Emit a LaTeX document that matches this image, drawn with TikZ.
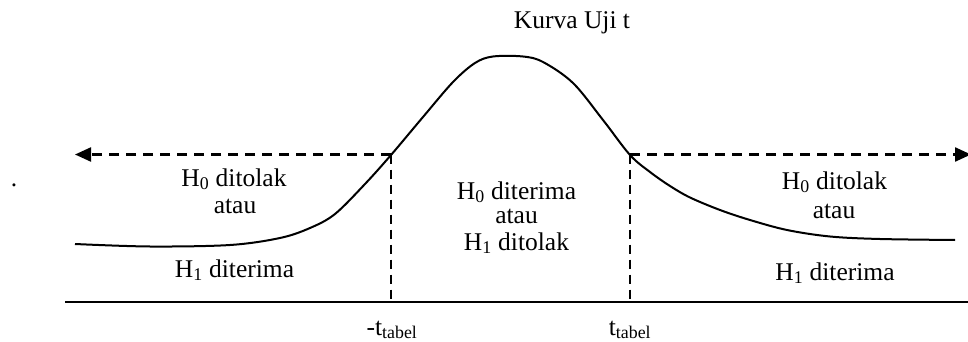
\documentclass[tikz,border=0pt]{standalone}
\usepackage{fontspec}
\setmainfont{Liberation Serif}
\usetikzlibrary{arrows.meta}
\begin{document}
\begin{tikzpicture}[x=1pt,y=-1pt,
  txt/.style={font=\fontsize{25.5}{29}\selectfont, anchor=base, inner sep=0pt},
  ln/.style={line width=2pt},
  dsh/.style={line width=2.3pt, dash pattern=on 10pt off 7pt},
  vdsh/.style={line width=2pt, dash pattern=on 9pt off 6pt}]
\useasboundingbox (0,0) rectangle (968,342);
\coordinate (L) at (391,154.5);
\coordinate (R) at (630,154.5);
\coordinate (Lend) at (75,154.5);
\coordinate (Rend) at (971,154.5);
\coordinate (LB) at (391,301.5);
\coordinate (RB) at (630,301.5);
\coordinate (A0) at (65,301.5);
\coordinate (A1) at (968,301.5);
% axis
\draw[ln] (A0) -- (A1);
% vertical dashed lines
\draw[vdsh] (L) -- (LB);
\draw[vdsh] (R) -- (RB);
% horizontal dashed arrows
\draw[dsh, -{Triangle[length=16pt,width=14pt]}] (L) -- (Lend);
\draw[dsh, -{Triangle[length=16pt,width=14pt]}] (R) -- (Rend);
% curve
\draw[ln] plot[smooth, tension=0.55] coordinates {
  (75,244) (150,246.5) (230,245) (280,238) (310,228) (335,214) (365,184)
  (391,155) (423,117) (453,82) (475,63) (493,56.5) (523,56.5) (543,62)
  (573,83) (603,120) (630,155) (650,172) (670,186) (690,197.5) (720,210)
  (750,220) (787,230) (830,236.5) (880,239) (955,240)};
% texts
\node[txt] (title) at (572,29) {Kurva Uji t};
\node[txt] (dot) at (14,186) {.};
\node[txt] (l1) at (234,186) {H\textsubscript{0} ditolak};
\node[txt] (l2) at (235,213) {atau};
\node[txt] (l3) at (234.5,277) {H\textsubscript{1} diterima};
\node[txt] (c1) at (516.5,199) {H\textsubscript{0} diterima};
\node[txt] (c2) at (516.5,223) {atau};
\node[txt] (c3) at (516.5,250) {H\textsubscript{1} ditolak};
\node[txt] (r1) at (834.5,189) {H\textsubscript{0} ditolak};
\node[txt] (r2) at (834,218) {atau};
\node[txt] (r3) at (835,280) {H\textsubscript{1} diterima};
\node[txt] (tl) at (392,335) {-t\textsubscript{tabel}};
\node[txt] (tr) at (630,335) {t\textsubscript{tabel}};
\end{tikzpicture}
\end{document}
